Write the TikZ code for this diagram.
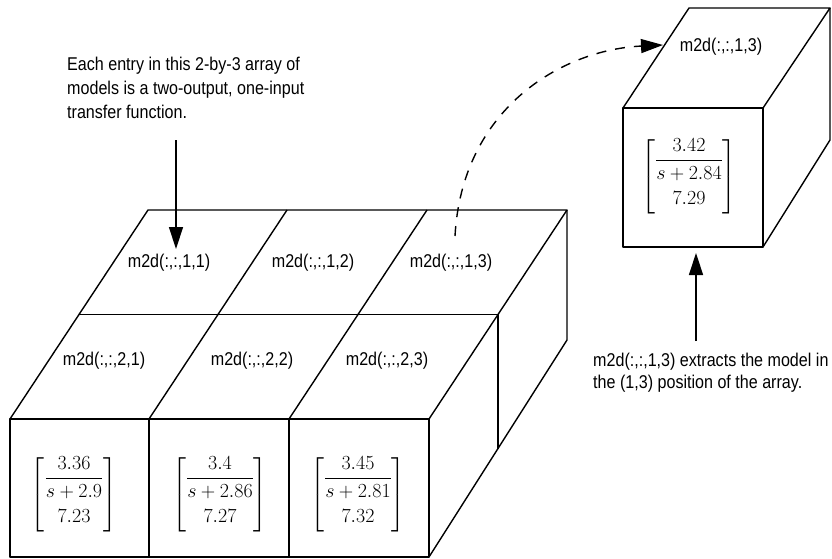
\RequirePackage{fix-cm}
\documentclass[tikz,border=0pt]{standalone}
\usepackage{amsmath}
\usepackage[no-math]{fontspec}
\newfontfamily\narrowsf[FakeStretch=0.87]{Liberation Sans}
\usetikzlibrary{arrows.meta}
\newcommand{\tfmat}[3]{$\setlength{\arraycolsep}{0.5pt}\renewcommand{\arraystretch}{1.45}%
  \begin{bmatrix}\dfrac{#1}{s+#2}\\ #3\end{bmatrix}$}

\begin{document}
\begin{tikzpicture}[x=1pt,y=-1pt,>={Triangle[length=22pt,width=14pt]},
  edge/.style={line width=1.4pt,line join=round},
  lbl/.style={font=\narrowsf\fontsize{18.5}{24}\selectfont,inner sep=0pt},
  tf/.style={font=\fontsize{20}{24}\selectfont,inner sep=0pt},
  ptr/.style={line width=1.4pt,->}]
  \useasboundingbox (0,0) rectangle (832,559);

  % 2-by-3 block
  \draw[edge] (10,419) rectangle (429,557);
  \foreach \x in {149,289}{
    \draw[edge] (\x,419) -- (\x,557);
    \draw[edge] (\x,419) -- ++(138,-209);
  }
  \draw[edge] (10,419) -- (148,210) -- (567,210) -- (429,419);
  \draw[edge] (79,314.5) -- (498,314.5) -- (498,448.5);
  \draw[edge] (567,210) -- (567,340) -- (429,557);

  % single model
  \draw[edge] (623,108) rectangle (763,247);
  \draw[edge] (623,108) -- (689,8) -- (830,8) -- (763,108);
  \draw[edge] (830,8) -- (830,140) -- (763,247);

  \foreach \i/\x in {1/169,2/313,3/451}
    \node[lbl] (c1\i) at (\x,263) {m2d(:,:,1,\i)};
  \foreach \i/\x in {1/104,2/252,3/387}
    \node[lbl] (c2\i) at (\x,361) {m2d(:,:,2,\i)};
  \node[lbl] (pick) at (721,47) {m2d(:,:,1,3)};

  \foreach \i/\x/\a/\b/\c in {1/74/3.36/2.9/7.23,2/220/3.4/2.86/7.27,3/358/3.45/2.81/7.32}
    \node[tf] (tf\i) at (\x,495) {\tfmat{\a}{\b}{\c}};
  \node[tf] (tfpick) at (689,177) {\tfmat{3.42}{2.84}{7.29}};

  % notes (base = last line)
  \node[lbl,align=left,anchor=base west] (note) at (67,119)
    {Each entry in this 2-by-3 array of\\models is a two-output, one-input\\transfer function.};
  \node[lbl,align=left,anchor=base west,font=\narrowsf\fontsize{18.5}{21.5}\selectfont] (extract) at (593,388)
    {m2d(:,:,1,3) extracts the model in\\the (1,3) position of the array.};

  \coordinate (tailA) at (176,140);
  \coordinate (tipA) at (176,249);
  \coordinate (srcB) at (455,236);
  \coordinate (tipB) at (663,45);
  \coordinate (tailC) at (696,341);
  \coordinate (tipC) at (696,253);
  \draw[ptr] (tailA) -- (tipA);
  \draw[ptr,dash pattern=on 10pt off 9pt] (srcB) .. controls (462,110) and (560,50) .. (tipB);
  \draw[ptr] (tailC) -- (tipC);
\end{tikzpicture}
\end{document}
